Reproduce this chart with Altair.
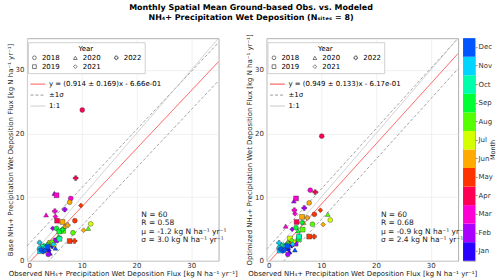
import altair as alt
import pandas as pd

MONTHS = ["Jan", "Feb", "Mar", "Apr", "May", "Jun", "Jul", "Aug", "Sep", "Oct", "Nov", "Dec"]
MONTH_COLORS = ["#2a00ff", "#aa00ff", "#ff00d4", "#ff0055", "#ff3300", "#ffaa00",
                "#d4ff00", "#55ff00", "#00ff33", "#00ffaa", "#00d4ff", "#0055ff"]
YEARS = ["2018", "2019", "2020", "2021", "2022"]
YEAR_SHAPES = ["circle", "square", "triangle-up", "diamond", "cross"]

# one value per (month, year): months Jan..Dec, years 2018..2022 within each month
obs = [3.6, 3.4, 4.2, 4.0, 4.6,
       3.9, 5.3, 5.0, 4.7, 6.9,
       8.0, 5.4, 3.5, 5.2, 5.1,
       10.1, 5.5, 4.5, 6.0, 8.9,
       8.75, 7.8, 4.4, 9.85, 8.7,
       7.8, 6.5, 6.8, 10.35, 7.45,
       11.65, 4.3, 3.9, 5.0, 5.8,
       8.4, 6.6, 11.2, 4.6, 3.9,
       5.4, 5.9, 5.75, 3.1, 6.5,
       2.8, 5.95, 3.7, 2.5, 2.9,
       2.3, 2.4, 3.3, 4.8, 2.3,
       2.6, 3.8, 5.2, 3.0, 3.3]
base = [1.8, 2.0, 1.2, 1.6, 2.3,
        1.0, 3.2, 10.6, 5.1, 8.05,
        9.8, 10.3, 7.2, 6.95, 7.8,
        23.7, 6.3, 2.9, 3.6, 13.0,
        6.3, 3.1, 2.6, 8.7, 3.1,
        9.2, 6.1, 5.4, 4.8, 5.6,
        5.8, 2.8, 2.9, 2.5, 3.5,
        4.4, 4.7, 5.1, 3.0, 2.5,
        5.07, 4.6, 3.8, 2.4, 4.9,
        2.2, 3.45, 2.6, 2.0, 1.8,
        1.9, 1.5, 2.2, 2.6, 2.85,
        1.7, 2.2, 2.0, 1.4, 1.6]
opt = [1.9, 2.1, 1.4, 1.8, 2.4,
       1.0, 2.7, 9.4, 4.95, 8.3,
       11.1, 9.8, 5.45, 7.4, 7.95,
       19.6, 6.1, 3.2, 3.9, 10.8,
       7.3, 3.8, 2.9, 7.95, 3.8,
       9.1, 6.9, 6.0, 5.7, 6.75,
       6.4, 3.5, 3.0, 3.0, 3.3,
       5.75, 4.9, 7.3, 3.2, 2.7,
       5.2, 3.45, 4.7, 2.5, 6.0,
       2.3, 3.8, 2.6, 2.1, 1.9,
       2.0, 1.6, 2.3, 2.6, 2.8,
       1.8, 2.3, 1.7, 1.5, 1.7]
month = [m for m in MONTHS for _ in YEARS]
year = [y for _ in MONTHS for y in YEARS]

# fit statistics: [base, optimized]
slope = [0.914, 0.949]
slope_err = [0.169, 0.133]
intercept = [-0.666, -0.617]
sigma = [3.0, 2.4]
n_pts = [60, 60]
r_val = [0.58, 0.68]
mu = [-1.2, -0.9]
TICKS = [0, 5, 10, 15, 20, 25, 30, 35]

UNIT = "kg N ha\u207b\u00b9 yr\u207b\u00b9"
XTITLE = "Observed NH\u2084+ Precipitation Wet Deposition Flux [" + UNIT + "]"
YTITLES = ["Base NH\u2084+ Precipitation Wet Deposition Flux [" + UNIT + "]",
           "Optimized NH\u2084+ Precipitation Wet Deposition Flux [" + UNIT + "]"]

df = pd.DataFrame({"obs": obs, "base": base, "opt": opt, "month": month, "year": year})

month_scale = alt.Scale(domain=MONTHS, range=MONTH_COLORS)
shape_scale = alt.Scale(domain=YEARS, range=YEAR_SHAPES)


def panel(i, ycol):
    m, e, b, s = slope[i], slope_err[i], intercept[i], sigma[i]
    reg_label = f"y = ({m:.3f} \u00b1 {e:.3f})x - {abs(b):.2e}"
    kinds = [reg_label, "\u00b11\u03c3", "1:1"]
    rows = []
    for part, off, kind in [("reg", 0, reg_label), ("up", s, kinds[1]), ("lo", -s, kinds[1])]:
        for xv in (0, 35):
            rows.append({"x": xv, "y": m * xv + b + off, "kind": kind, "part": part})
    for xv in (0, 35):
        rows.append({"x": xv, "y": xv, "kind": "1:1", "part": "one"})
    line_df = pd.DataFrame(rows)

    xenc = alt.X("x:Q", scale=alt.Scale(domain=[0, 35], nice=False),
                 axis=alt.Axis(values=TICKS, title=XTITLE, labelPadding=1, titlePadding=1))
    yenc = alt.Y("y:Q", scale=alt.Scale(domain=[0, 35], nice=False),
                 axis=alt.Axis(values=TICKS, title=YTITLES[i], labelPadding=3, titlePadding=2))

    line_legend = alt.Legend(orient="none", legendX=1, legendY=36, title=None,
                             symbolType="stroke", symbolSize=220, symbolStrokeWidth=1,
                             labelFontSize=7, labelOffset=3, rowPadding=-3, padding=2)
    lines = alt.Chart(line_df).mark_line(clip=True, strokeWidth=0.9).encode(
        x=xenc, y=yenc,
        stroke=alt.Stroke("kind:N", scale=alt.Scale(domain=kinds, range=["#ff4040", "#9a9a9a", "#c8c8c8"]),
                          legend=line_legend),
        strokeDash=alt.StrokeDash("kind:N", scale=alt.Scale(domain=kinds, range=[[1, 0], [3, 2], [1, 0]]),
                                  legend=line_legend),
        detail="part:N",
    )

    year_legend = alt.Legend(orient="none", legendX=1, legendY=4, columns=3, title="Year",
                             titleAnchor="middle", titleFontSize=7, titleFontWeight="normal",
                             titlePadding=2, labelFontSize=7, labelOffset=4, symbolSize=14,
                             symbolFillColor="white", symbolStrokeColor="#444", symbolStrokeWidth=0.7,
                             columnPadding=12, rowPadding=1, fillColor="white", strokeColor="#d0d0d0",
                             padding=3)
    pts = alt.Chart(df).mark_point(filled=True, size=24, opacity=1, stroke="#333", strokeWidth=0.4).encode(
        x=alt.X("obs:Q", scale=alt.Scale(domain=[0, 35], nice=False)),
        y=alt.Y(f"{ycol}:Q", scale=alt.Scale(domain=[0, 35], nice=False)),
        fill=alt.Fill("month:N", scale=month_scale, legend=None),
        shape=alt.Shape("year:N", scale=shape_scale, legend=year_legend),
    )

    stat_df = pd.DataFrame({
        "sx": [20.9], "sy": [7.9],
        "txt": [f"N = {n_pts[i]}\nR = {r_val[i]:.2f}\n\u03bc = {mu[i]:.1f} {UNIT}\n\u03c3 = {sigma[i]:.1f} {UNIT}"],
    })
    stats = alt.Chart(stat_df).mark_text(align="left", baseline="top", lineBreak="\n", fontSize=7.5,
                                         lineHeight=8.6, color="#222").encode(
        x=alt.X("sx:Q", scale=alt.Scale(domain=[0, 35], nice=False)),
        y=alt.Y("sy:Q", scale=alt.Scale(domain=[0, 35], nice=False)),
        text="txt:N",
    )
    return alt.layer(lines, pts, stats).properties(width=192, height=223)


left = panel(0, "base")
right = panel(1, "opt")

cbar = alt.Chart(pd.DataFrame({"month": MONTHS})).mark_rect().encode(
    y=alt.Y("month:N", sort=MONTHS[::-1], scale=alt.Scale(paddingInner=0, paddingOuter=0),
            axis=alt.Axis(orient="right", title="Month", titleAngle=270, grid=False, domain=False,
                          ticks=True, tickSize=2, labelPadding=1, titleFontSize=6.5, titlePadding=3)),
    fill=alt.Fill("month:N", scale=month_scale, legend=None),
).properties(width=12, height=223)

inner = alt.hconcat(right, cbar, spacing=5, bounds="flush")
chart = alt.hconcat(left, inner, spacing=48, bounds="flush").resolve_scale(
    stroke="independent", strokeDash="independent", shape="independent"
).resolve_legend(
    stroke="independent", strokeDash="independent", shape="independent"
).properties(
    title=alt.TitleParams(
        ["Monthly Spatial Mean Ground-based Obs. vs. Modeled",
         "NH\u2084+ Precipitation Wet Deposition (N\u209b\u1d62\u209c\u2091\u209b = 8)"],
        fontSize=8, font="DejaVu Sans", fontWeight="bold", anchor="middle", offset=11, lineHeight=10,
    ),
    padding={"left": 5, "top": 3, "right": 3, "bottom": 2},
).configure(font="DejaVu Sans").configure_axis(
    labelFontSize=7, labelColor="#333", labelFont="DejaVu Sans",
    titleFontSize=7, titleFontWeight="normal", titleColor="#222", titleFont="DejaVu Sans",
    ticks=False, domain=False,
    grid=True, gridColor="#e8e8e8", gridWidth=0.6,
).configure_view(stroke="#b0b0b0", strokeWidth=1).configure_legend(
    labelFont="DejaVu Sans", titleFont="DejaVu Sans"
)

chart.save("out.html", embed_options={"renderer": "svg", "actions": False})
